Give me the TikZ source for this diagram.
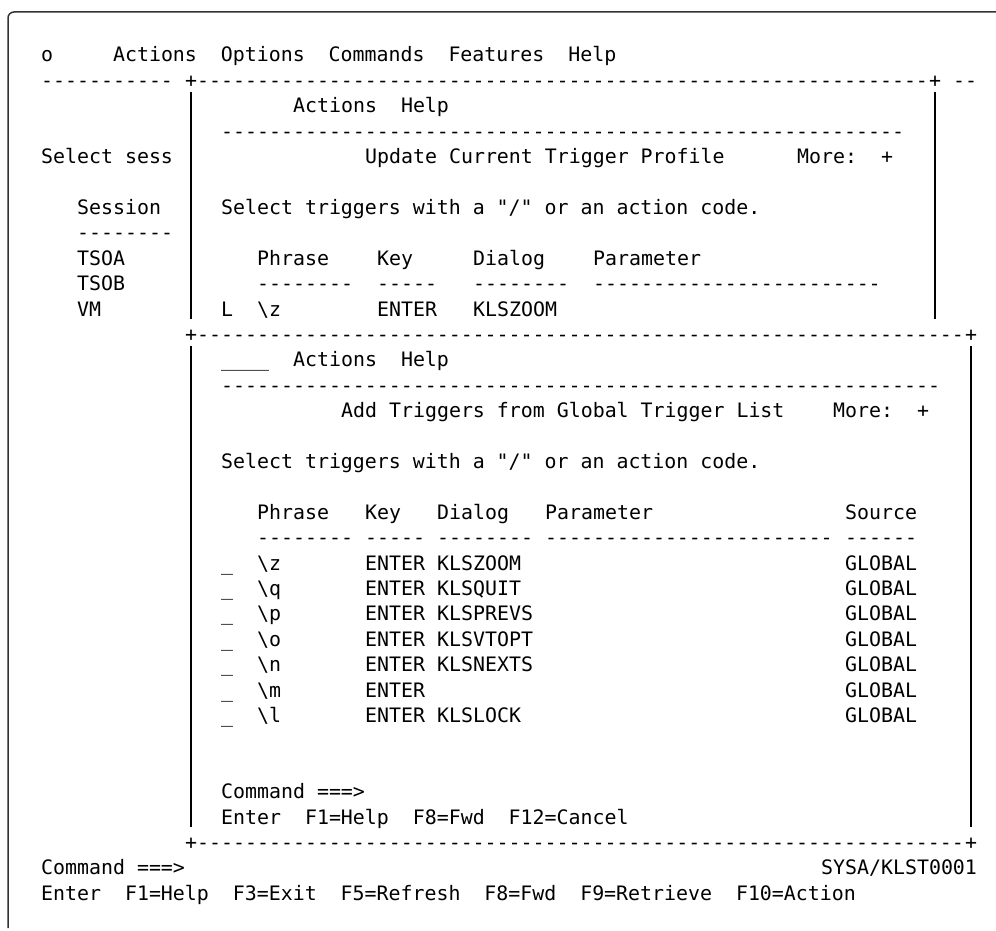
\documentclass[tikz,border=0pt]{standalone}
\usepackage{fontspec}
\setmonofont{DejaVu Sans Mono}

\ExplSyntaxOn
\cs_new:Npn \dashrun #1 { \prg_replicate:nn {#1} {-} }
\ExplSyntaxOff

\tikzset{
    screen/.style={font=\ttfamily\fontsize{19.9}{24}\selectfont, anchor=base west, inner sep=0pt},
    bar/.style={line width=1.6pt},
    frame/.style={line width=1.5pt, draw=black!80, rounded corners=6pt}
}

% text at column #2, row #3 of the screen grid
\newcommand\scrtext[4]{\node[screen] (#1) at ({41+12*#2},{62+25.4*#3}) {#4};}
% vertical border at column #1 from row #2 to row #3
\newcommand\scrbar[3]{\draw[bar] ({47+12*#1},{41+25.4*#2}) -- ({47+12*#1},{65+25.4*#3});}

\begin{document}
\begin{tikzpicture}[x=1pt,y=-1pt]
        \useasboundingbox (0,0) rectangle (996,931);

        % Outer frame
        \draw[frame] (996,12) -- (8,12) -- (8,928);

        % Menu bar of the session list
        \scrtext{menu}{0}{0}{o~~~~~Actions~~Options~~Commands~~Features~~Help}
        \scrtext{rule}{0}{1}{\dashrun{11}}
        \scrtext{ptl}{12}{1}{+}
        \scrtext{ptop}{13}{1}{\dashrun{61}}
        \scrtext{ptr}{74}{1}{+}
        \scrtext{rulex}{76}{1}{\dashrun{2}}

        % Session list behind the pop-ups
        \scrtext{sel}{0}{4}{Select sess}
        \scrtext{sesh}{3}{6}{Session}
        \scrtext{sesr}{3}{7}{\dashrun{8}}
        \foreach \s [count=\i from 8] in {TSOA,TSOB,VM} {
            \scrtext{s\i}{3}{\i}{\s}
        }

        % Upper pop-up: current trigger profile
        \scrtext{ubar}{21}{2}{Actions~~Help}
        \scrtext{urule}{15}{3}{\dashrun{57}}
        \scrtext{utitle}{27}{4}{Update Current Trigger Profile}
        \scrtext{umore}{63}{4}{More:~~+}
        \scrtext{uhint}{15}{6}{Select triggers with a "/" or an action code.}
        \scrtext{uphr}{18}{8}{Phrase}
        \scrtext{ukey}{28}{8}{Key}
        \scrtext{udlg}{36}{8}{Dialog}
        \scrtext{upar}{46}{8}{Parameter}
        \scrtext{uphrr}{18}{9}{\dashrun{8}}
        \scrtext{ukeyr}{28}{9}{\dashrun{5}}
        \scrtext{udlgr}{36}{9}{\dashrun{8}}
        \scrtext{uparr}{46}{9}{\dashrun{24}}
        \scrtext{uact}{15}{10}{L}
        \scrtext{uz}{18}{10}{\textbackslash z}
        \scrtext{uzkey}{28}{10}{ENTER}
        \scrtext{uzdlg}{36}{10}{KLSZOOM}
        \scrbar{12}{2}{10}
        \scrbar{74}{2}{10}

        % Lower pop-up: global trigger list
        \scrtext{gbl}{12}{11}{+}
        \scrtext{gtop}{13}{11}{\dashrun{64}}
        \scrtext{gbr}{77}{11}{+}
        \scrtext{gsel}{15}{12}{\_\_\_\_}
        \scrtext{gbar}{21}{12}{Actions~~Help}
        \scrtext{grule}{15}{13}{\dashrun{60}}
        \scrtext{gtitle}{25}{14}{Add Triggers from Global Trigger List}
        \scrtext{gmore}{66}{14}{More:~~+}
        \scrtext{ghint}{15}{16}{Select triggers with a "/" or an action code.}
        \scrtext{gphr}{18}{18}{Phrase}
        \scrtext{gkey}{27}{18}{Key}
        \scrtext{gdlg}{33}{18}{Dialog}
        \scrtext{gpar}{42}{18}{Parameter}
        \scrtext{gsrc}{67}{18}{Source}
        \scrtext{gphrr}{18}{19}{\dashrun{8}}
        \scrtext{gkeyr}{27}{19}{\dashrun{5}}
        \scrtext{gdlgr}{33}{19}{\dashrun{8}}
        \scrtext{gparr}{42}{19}{\dashrun{24}}
        \scrtext{gsrcr}{67}{19}{\dashrun{6}}
        \foreach \k/\d [count=\r from 20] in {z/KLSZOOM,q/KLSQUIT,p/KLSPREVS,o/KLSVTOPT,n/KLSNEXTS,m/,l/KLSLOCK} {
            \scrtext{ga\r}{15}{\r}{\_}
            \scrtext{gp\r}{18}{\r}{\textbackslash\k}
            \scrtext{gk\r}{27}{\r}{ENTER}
            \scrtext{gd\r}{33}{\r}{\d}
            \scrtext{gs\r}{67}{\r}{GLOBAL}
        }
        \scrtext{gcmd}{15}{29}{Command~===>}
        \scrtext{gkeys}{15}{30}{Enter~~F1=Help~~F8=Fwd~~F12=Cancel}
        \scrtext{gbl2}{12}{31}{+}
        \scrtext{gbot}{13}{31}{\dashrun{64}}
        \scrtext{gbr2}{77}{31}{+}
        \scrbar{12}{12}{30}
        \scrbar{77}{12}{30}

        % Command line and function keys
        \scrtext{cmd}{0}{32}{Command~===>}
        \scrtext{panel}{65}{32}{SYSA/KLST0001}
        \scrtext{keys}{0}{33}{Enter~~F1=Help~~F3=Exit~~F5=Refresh~~F8=Fwd~~F9=Retrieve~~F10=Action}
    \end{tikzpicture}
\end{document}
